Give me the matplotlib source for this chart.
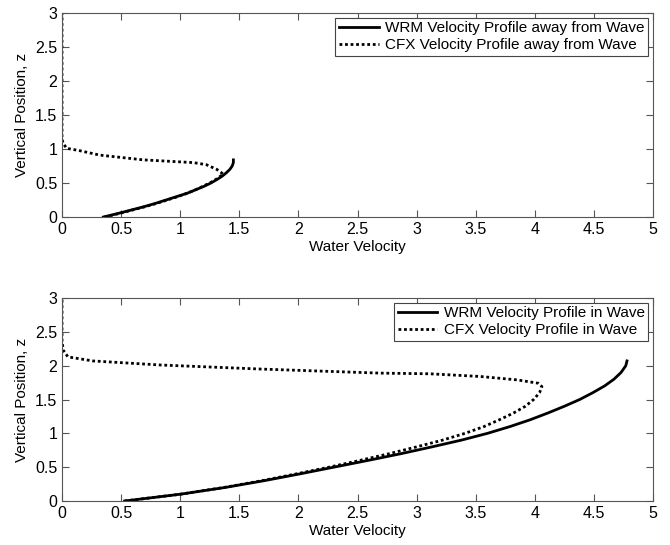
import matplotlib.pyplot as plt
import numpy as np

plt.rcParams['font.family'] = ['Liberation Sans', 'DejaVu Sans']

# top panel: away from wave
wrm_away_z = [0.00, 0.05, 0.10, 0.15, 0.20, 0.25, 0.30, 0.35, 0.40, 0.45, 0.50, 0.55,
              0.60, 0.65, 0.70, 0.75, 0.80, 0.84]
wrm_away_u = [0.35, 0.47, 0.58, 0.69, 0.79, 0.88, 0.97, 1.06, 1.13, 1.20, 1.26, 1.31,
              1.355, 1.39, 1.42, 1.44, 1.45, 1.45]
cfx_away_z = [0.00, 0.05, 0.10, 0.15, 0.20, 0.25, 0.30, 0.35, 0.40, 0.45, 0.50, 0.55,
              0.60, 0.63, 0.70, 0.77, 0.80, 0.84, 0.91, 0.975, 1.01, 1.08, 1.15, 3.00]
cfx_away_u = [0.36, 0.48, 0.59, 0.70, 0.80, 0.89, 0.98, 1.06, 1.13, 1.19, 1.25, 1.30,
              1.34, 1.365, 1.31, 1.22, 1.11, 0.69, 0.32, 0.15, 0.04, 0.01, 0.00, 0.00]

# bottom panel: in wave
wrm_in_z = [0.00, 0.10, 0.20, 0.30, 0.40, 0.50, 0.60, 0.70, 0.80, 0.90, 1.00, 1.10,
            1.20, 1.30, 1.40, 1.50, 1.60, 1.70, 1.80, 1.90, 2.00, 2.07]
wrm_in_u = [0.53, 1.00, 1.38, 1.71, 2.01, 2.30, 2.59, 2.87, 3.13, 3.38, 3.60, 3.79,
            3.96, 4.11, 4.25, 4.38, 4.49, 4.59, 4.67, 4.73, 4.77, 4.78]
cfx_in_z = [0.00, 0.10, 0.20, 0.30, 0.40, 0.50, 0.60, 0.70, 0.80, 0.90, 1.00, 1.10,
            1.20, 1.30, 1.40, 1.50, 1.60, 1.69, 1.74, 1.79, 1.84, 1.88, 1.89, 1.95,
            2.01, 2.07, 2.13, 2.23, 2.38, 3.00]
cfx_in_u = [0.53, 1.00, 1.37, 1.69, 1.98, 2.26, 2.52, 2.77, 3.00, 3.22, 3.41, 3.57,
            3.70, 3.82, 3.92, 3.99, 4.04, 4.06, 4.03, 3.85, 3.54, 3.11, 2.69, 1.68,
            0.83, 0.26, 0.05, 0.01, 0.00, 0.00]

fig = plt.figure(figsize=(6.7, 5.45), dpi=100)
ax1 = fig.add_axes([62 / 670, 1 - 217 / 545, 591 / 670, 204 / 545])
ax2 = fig.add_axes([62 / 670, 1 - 501 / 545, 591 / 670, 203 / 545])

panels = [
    (ax1, wrm_away_u, wrm_away_z, cfx_away_u, cfx_away_z, 'away from Wave'),
    (ax2, wrm_in_u, wrm_in_z, cfx_in_u, cfx_in_z, 'in Wave'),
]
for ax, wu, wz, cu, cz, lab in panels:
    ax.plot(wu, wz, color='black', lw=2.0, solid_joinstyle='round',
            label='WRM Velocity Profile ' + lab)
    ax.plot(cu, cz, color='black', lw=2.0, ls=(0, (1, 1)),
            label='CFX Velocity Profile ' + lab)
    ax.set_xlim(0, 5)
    ax.set_ylim(0, 3)
    ax.set_xticks(np.arange(0, 5.01, 0.5))
    ax.set_yticks(np.arange(0, 3.01, 0.5))
    ax.set_xticklabels(['0', '0.5', '1', '1.5', '2', '2.5', '3', '3.5', '4', '4.5', '5'])
    ax.set_yticklabels(['0', '0.5', '1', '1.5', '2', '2.5', '3'])
    ax.tick_params(direction='in', top=True, right=True, labelsize=11.5, length=5,
                   color='#555555')
    for s in ax.spines.values():
        s.set_color('#555555')
    ax.set_xlabel('Water Velocity', fontsize=11, labelpad=2)
    ax.set_ylabel('Vertical Position, z', fontsize=11, labelpad=4)
    leg = ax.legend(loc='upper right', fontsize=11, fancybox=False, framealpha=1,
                    edgecolor='#444444', handlelength=2.6, borderaxespad=0.3,
                    labelspacing=0.2, borderpad=0.25, handletextpad=0.4)
    leg.get_frame().set_linewidth(0.8)

fig.savefig('out.png', dpi=100)
